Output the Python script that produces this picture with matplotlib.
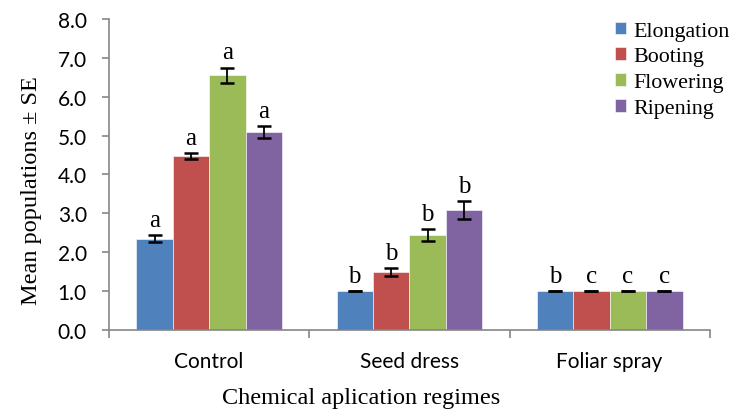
import matplotlib
matplotlib.use("Agg")
import matplotlib.pyplot as plt
import numpy as np

categories = ["Control", "Seed dress", "Foliar spray"]
series_names = ["Elongation", "Booting", "Flowering", "Ripening"]
elongation = [2.35, 1.00, 1.00]
booting = [4.48, 1.48, 1.00]
flowering = [6.55, 2.44, 1.00]
ripening = [5.10, 3.08, 1.00]
elongation_se = [0.10, 0.0, 0.0]
booting_se = [0.08, 0.10, 0.0]
flowering_se = [0.20, 0.15, 0.0]
ripening_se = [0.15, 0.23, 0.0]
elongation_letters = ["a", "b", "b"]
booting_letters = ["a", "b", "c"]
flowering_letters = ["a", "b", "c"]
ripening_letters = ["a", "b", "c"]
yticks = [0, 1, 2, 3, 4, 5, 6, 7, 8]

values = [elongation, booting, flowering, ripening]
errors = [elongation_se, booting_se, flowering_se, ripening_se]
letters = [elongation_letters, booting_letters, flowering_letters, ripening_letters]
colors = ["#4F81BD", "#C0504D", "#9BBB59", "#8064A2"]

serif = "Liberation Serif"
sans = "Lato"

fig = plt.figure(figsize=(7.37, 4.10), dpi=100)
ax = fig.add_axes([0.148, 0.193, 0.815, 0.758])

x = np.arange(len(categories))
w = 0.182
for i, (vals, errs, lets, c, name) in enumerate(zip(values, errors, letters, colors, series_names)):
    pos = x + (i - 1.5) * w
    ax.bar(pos, vals, width=w, color=c, edgecolor="white", linewidth=0.4, label=name, zorder=2)
    ax.errorbar(pos, vals, yerr=errs, fmt="none", ecolor="black", elinewidth=1.3,
                capsize=5, capthick=1.8, zorder=3)
    for p, v, e, l in zip(pos, vals, errs, lets):
        ax.annotate(l, (p, v + e), xytext=(0, 3), textcoords="offset points",
                    ha="center", va="bottom", fontsize=18, family=serif)

ax.set_xlim(-0.5, len(categories) - 0.5)
ax.set_ylim(0, 8)
ax.set_yticks(yticks)
ax.set_yticklabels([f"{t:.1f}" for t in yticks], fontsize=15, family=sans)
ax.set_xticks(x)
ax.set_xticklabels(categories, fontsize=15, family=sans)
ax.tick_params(axis="x", length=0, pad=15)
ax.set_xticks(np.arange(-0.5, len(categories)), minor=True)
ax.tick_params(axis="x", which="minor", length=6, color="#868686", width=1.2)
ax.tick_params(axis="y", length=5, color="#868686", width=1.2, pad=11)

for s in ["top", "right"]:
    ax.spines[s].set_visible(False)
for s in ["left", "bottom"]:
    ax.spines[s].set_color("#868686")
    ax.spines[s].set_linewidth(1.2)

ax.set_xlabel("Chemical aplication regimes", fontsize=17.5, family=serif)
ax.set_ylabel("Mean populations ± SE", fontsize=17.5, family=serif)
ax.xaxis.set_label_coords(0.42, -0.183)
ax.yaxis.set_label_coords(-0.112, 0.453)

leg = ax.legend(loc="upper left", bbox_to_anchor=(0.834, 0.945), bbox_transform=fig.transFigure,
                frameon=False, prop={"family": serif, "size": 15.8},
                handlelength=0.5, handleheight=0.5, handletextpad=0.35, labelspacing=0.31,
                borderaxespad=0, borderpad=0)

fig.savefig("out.png", dpi=100)
